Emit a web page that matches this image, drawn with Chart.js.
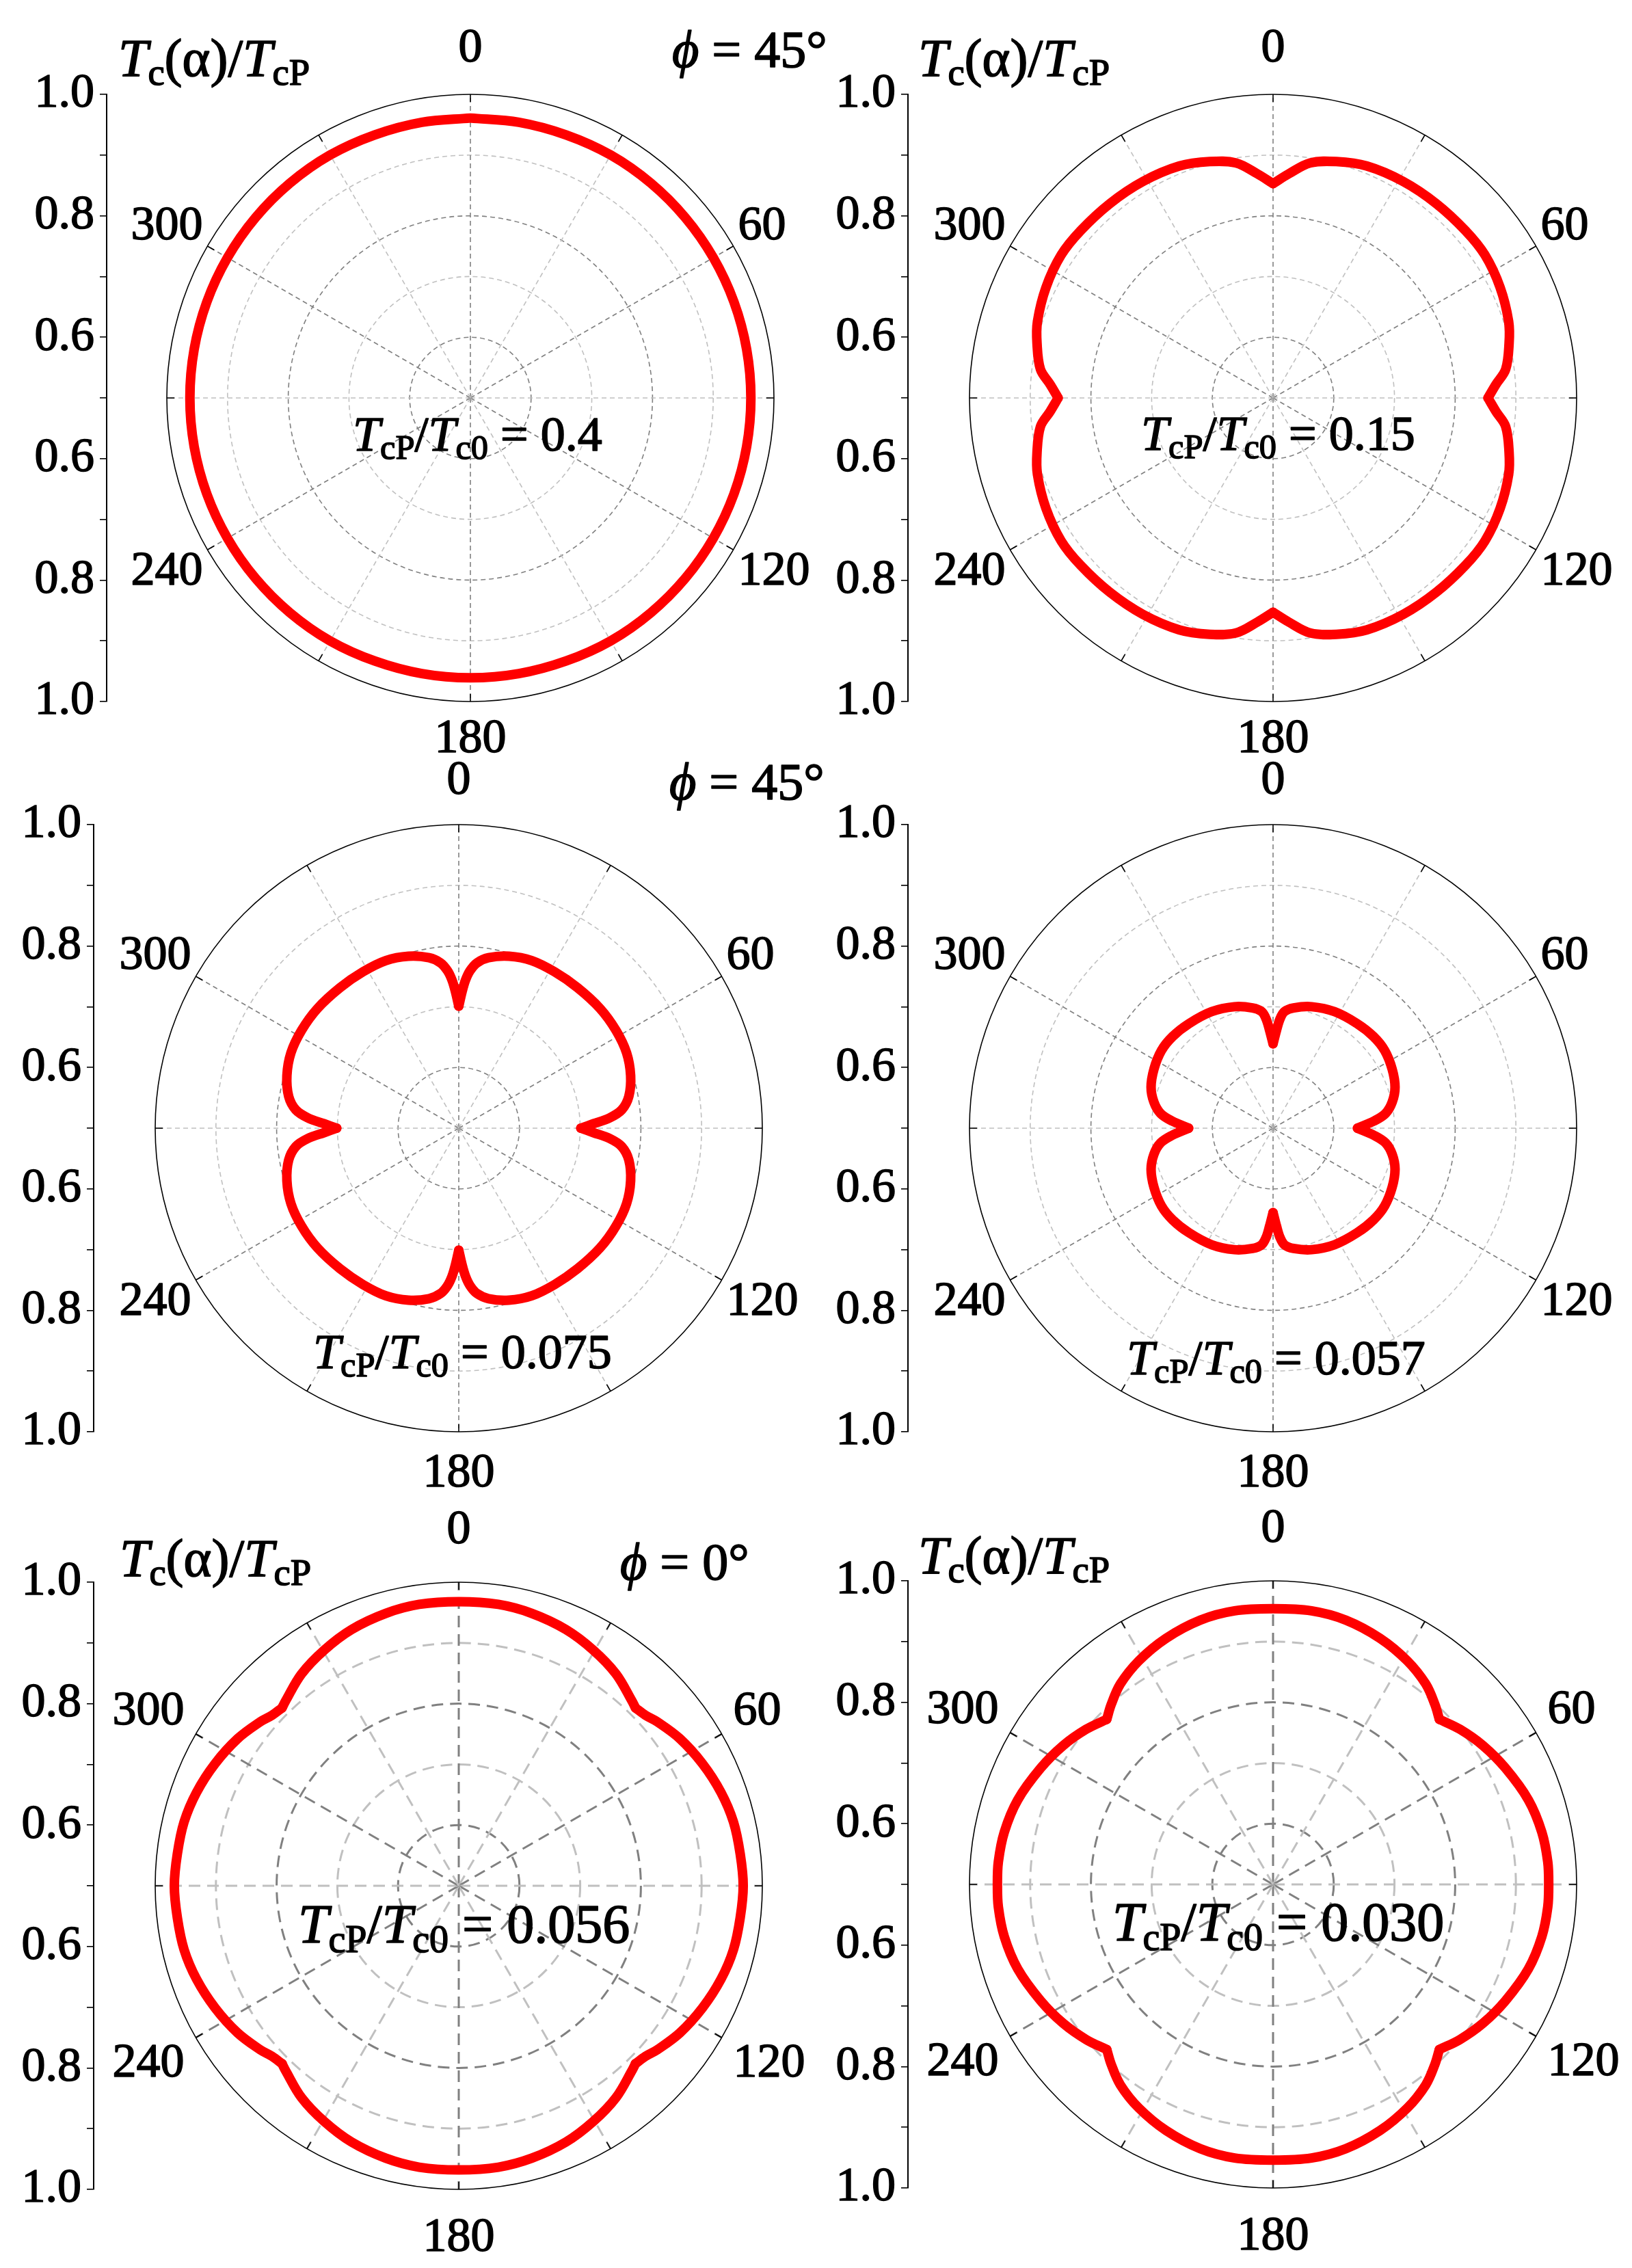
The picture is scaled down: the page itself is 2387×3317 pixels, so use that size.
<!DOCTYPE html>
<html lang="en">
<head>
  <meta charset="UTF-8">
  <title>Tc(α)/TcP polar plots</title>
  <script src="https://cdn.jsdelivr.net/npm/chart.js"></script>
  <style>
    html, body { margin: 0; padding: 0; background: #fff; }
    body { width: 2387px; height: 3317px; position: relative; overflow: hidden; }
    canvas { position: absolute; }
  </style>
</head>
<body>
<script>
  // radial axis: centre of each disc is Tc/TcP = 0.5, rim is 1.0
  const R_MIN = 0.5, R_MAX = 1.0;

  // first-quadrant angles (deg, clockwise from top) and Tc(α)/TcP
  const ang1 = [0, 10, 20, 30, 40, 50, 60, 70, 80, 90];
  const val1 = [0.961, 0.961, 0.961, 0.962, 0.962, 0.962, 0.962, 0.962, 0.962, 0.962];

  const ang2 = [0, 4, 9, 15, 22, 31, 40, 49, 56, 64, 72, 77, 83, 86.5, 90];
  const val2 = [0.853, 0.870, 0.892, 0.903, 0.912, 0.916, 0.918, 0.920, 0.921, 0.916, 0.908, 0.899, 0.886, 0.868, 0.854];

  const ang3 = [0, 1.4, 2.6, 4.1, 6.3, 9.9, 16.3, 23.5, 31.5, 40.2, 49.7, 58.1, 65.8, 73, 79.4, 83.6, 86.1, 88.1, 90];
  const val3 = [0.701, 0.725, 0.744, 0.760, 0.774, 0.785, 0.795, 0.801, 0.802, 0.803, 0.805, 0.805, 0.803, 0.796, 0.785, 0.770, 0.749, 0.722, 0.701];

  const ang4 = [0, 2, 3.6, 5.6, 9.7, 17.7, 27.8, 38.8, 47.6, 55.2, 63.6, 71.4, 77.6, 82.5, 85.9, 90];
  const val4 = [0.639, 0.661, 0.680, 0.693, 0.701, 0.710, 0.717, 0.721, 0.724, 0.724, 0.719, 0.712, 0.701, 0.687, 0.667, 0.639];

  const ang5 = [0, 8, 15, 22.7, 29.7, 36.6, 43.2, 44.8, 47.6, 50.4, 56.4, 63.4, 70.4, 76.9, 83.5, 90];
  const val5 = [0.968, 0.968, 0.9645, 0.9575, 0.947, 0.9345, 0.917, 0.913, 0.9165, 0.924, 0.9375, 0.949, 0.9585, 0.9645, 0.9665, 0.9685];

  const ang6 = [0, 8, 15.4, 23.5, 31, 37.3, 42, 45.2, 50.3, 56.5, 63.4, 71.7, 79, 85.3, 90];
  const val6 = [0.954, 0.955, 0.9515, 0.942, 0.9295, 0.915, 0.8985, 0.886, 0.900, 0.9145, 0.928, 0.943, 0.951, 0.954, 0.954];

  // angles where the curve has a cusp or a kink (first quadrant)
  const brk1 = [];
  const brk2 = [0, 90];
  const brk3 = [0, 90];
  const brk4 = [0, 90];
  const brk5 = [44.8];
  const brk6 = [45.2];

  // left axis ticks, bottom to top (the axis reads 1.0 ... 0.5 ... 1.0)
  const yTickR = [1.0, 0.9, 0.8, 0.7, 0.6, 0.5, 0.6, 0.7, 0.8, 0.9, 1.0];
  const yTickText = ['1.0', '', '0.8', '', '0.6', '', '0.6', '', '0.8', '', '1.0'];

  const ringR = [0.6, 0.7, 0.8, 0.9];
  const spokeAngles = [0, 30, 60, 90, 120, 150, 180, 210, 240, 270, 300, 330];
  const angleLabels = [0, 60, 120, 180, 240, 300];

  const FAM = '"Liberation Serif", "DejaVu Serif", serif';
  const TEXT_STROKE = 1.6;
  const RADIUS = 444;
  const AXIS_W = 170, PAD_T = 140, PAD_B = 120, PAD_R = 150;

  const rowStyle = [
    { dash: [7, 5], gw: 1.6, g0: 48, g180: 26, dx: 7, dyU: 10, dyD: 3, note: 72 },
    { dash: [7, 5], gw: 1.6, g0: 45, g180: 32, dx: 7, dyU: 11, dyD: 3, note: 72 },
    { dash: [17, 10], gw: 3, g0: 57, g180: 42, dx: 17, dyU: 14, dyD: 9, note: 80 }
  ];

  const panels = [
    { a: ang1, v: val1, b: brk1, cx: 688, cy: 582, axis: 156, row: 0, note: '0.4', noteAt: [516, 659], tc: [173, 111], phi: ['45°', 983, 98] },
    { a: ang2, v: val2, b: brk2, cx: 1862, cy: 582, axis: 1328, row: 0, note: '0.15', noteAt: [1669, 658], tc: [1343, 111] },
    { a: ang3, v: val3, b: brk3, cx: 671, cy: 1650, axis: 137, row: 1, note: '0.075', noteAt: [458, 2001], phi: ['45°', 979, 1169] },
    { a: ang4, v: val4, b: brk4, cx: 1862, cy: 1650, axis: 1328, row: 1, note: '0.057', noteAt: [1648, 2010] },
    { a: ang5, v: val5, b: brk5, cx: 671, cy: 2758, axis: 137, row: 2, note: '0.056', noteAt: [436, 2841], tc: [175, 2305], phi: ['0°', 907, 2310] },
    { a: ang6, v: val6, b: brk6, cx: 1862, cy: 2756, axis: 1328, row: 2, note: '0.030', noteAt: [1627, 2838], tc: [1343, 2301] }
  ];

  const wrap = d => ((d % 360) + 360) % 360;

  // each panel is mirror symmetric about both axes: unfold the quadrant into a full loop
  function loop(angles, vals) {
    const pts = [];
    const add = (d, r) => {
      d = wrap(d);
      if (pts.some(p => Math.abs(p.d - d) < 1e-6)) return;
      pts.push({ d, r });
    };
    angles.forEach((a, i) => add(a, vals[i]));
    angles.forEach((a, i) => add(180 - a, vals[i]));
    angles.forEach((a, i) => add(180 + a, vals[i]));
    angles.forEach((a, i) => add(360 - a, vals[i]));
    return pts.sort((p, q) => p.d - q.d);
  }

  // split the loop at the cusps so the smoothing keeps them sharp
  function arcs(pts, breaks) {
    const bs = [...new Set(breaks.flatMap(b => [b, 180 - b, 180 + b, 360 - b].map(wrap)))].sort((a, b) => a - b);
    if (!bs.length) return [[...pts, pts[0]]];
    const n = pts.length;
    const starts = bs.map(b => pts.findIndex(p => Math.abs(p.d - b) < 1e-6));
    return starts.map((s, k) => {
      const e = starts[(k + 1) % starts.length];
      const seg = [pts[s]];
      let i = s;
      do { i = (i + 1) % n; seg.push(pts[i]); } while (i !== e);
      return seg;
    });
  }

  const toXY = p => {
    const f = (p.r - R_MIN) / (R_MAX - R_MIN);
    const t = p.d * Math.PI / 180;
    return { x: f * Math.sin(t), y: f * Math.cos(t) };
  };

  function text(ctx, s, x, y) {
    ctx.strokeText(s, x, y);
    ctx.fillText(s, x, y);
  }

  function rich(ctx, x, y, parts, size) {
    let cur = x;
    parts.forEach(([t, s]) => {
      const sub = s === 's';
      const sz = sub ? size * 0.7 : size;
      ctx.font = (s === 'i' ? 'italic ' : '') + sz + 'px ' + FAM;
      text(ctx, t, cur, y + (sub ? size * 0.17 : 0));
      cur += ctx.measureText(t).width;
    });
  }

  const polarGrid = {
    id: 'polarGrid',
    beforeDatasetsDraw(chart, args, o) {
      const { ctx, scales: { x, y } } = chart;
      const st = rowStyle[o.row];
      const cx = x.getPixelForValue(0), cy = y.getPixelForValue(0);
      const rad = r => cy - y.getPixelForValue((r - R_MIN) / (R_MAX - R_MIN));
      ctx.save();
      ctx.lineWidth = st.gw;
      ctx.setLineDash(st.dash);
      ringR.forEach(r => {
        ctx.strokeStyle = Math.round(r * 10) % 2 === 0 ? '#808080' : '#c0c0c0';
        ctx.beginPath();
        ctx.arc(cx, cy, rad(r), 0, Math.PI * 2);
        ctx.stroke();
      });
      spokeAngles.forEach(d => {
        const t = d * Math.PI / 180;
        ctx.strokeStyle = d % 60 === 0 ? '#808080' : '#c0c0c0';
        ctx.beginPath();
        ctx.moveTo(cx, cy);
        ctx.lineTo(x.getPixelForValue(Math.sin(t)), y.getPixelForValue(Math.cos(t)));
        ctx.stroke();
      });
      ctx.setLineDash([]);
      ctx.strokeStyle = '#000';
      ctx.lineWidth = 1.6;
      ctx.beginPath();
      ctx.arc(cx, cy, rad(R_MAX), 0, Math.PI * 2);
      ctx.stroke();
      spokeAngles.forEach(d => {
        const t = d * Math.PI / 180;
        ctx.beginPath();
        ctx.moveTo(x.getPixelForValue(Math.sin(t)), y.getPixelForValue(Math.cos(t)));
        ctx.lineTo(x.getPixelForValue(0.975 * Math.sin(t)), y.getPixelForValue(0.975 * Math.cos(t)));
        ctx.stroke();
      });
      ctx.restore();
    },
    afterDraw(chart, args, o) {
      const { ctx, scales: { x, y } } = chart;
      const st = rowStyle[o.row];
      const p = o.panel;
      const cap = 70 * 0.68;
      ctx.save();
      ctx.fillStyle = '#000';
      ctx.strokeStyle = '#000';
      ctx.lineWidth = TEXT_STROKE;
      ctx.lineJoin = 'round';
      ctx.textBaseline = 'alphabetic';
      ctx.font = '70px ' + FAM;
      angleLabels.forEach(d => {
        const t = d * Math.PI / 180;
        const px = x.getPixelForValue(Math.sin(t)), py = y.getPixelForValue(Math.cos(t));
        const s = String(d);
        if (d === 0) {
          ctx.textAlign = 'center';
          text(ctx, s, px, py - st.g0);
        } else if (d === 180) {
          ctx.textAlign = 'center';
          text(ctx, s, px, py + st.g180 + cap);
        } else {
          ctx.textAlign = d < 180 ? 'left' : 'right';
          const tx = d < 180 ? px + st.dx : px - st.dx;
          const ty = (d < 90 || d > 270) ? py - st.dyU : py + st.dyD + cap;
          text(ctx, s, tx, ty);
        }
      });
      ctx.textAlign = 'left';
      const ox = o.left, oy = o.top;
      rich(ctx, p.noteAt[0] - ox, p.noteAt[1] - oy,
        [['T', 'i'], ['cP', 's'], ['/', 'r'], ['T', 'i'], ['c0', 's'], [' = ' + p.note, 'r']], st.note);
      if (p.tc) {
        rich(ctx, p.tc[0] - ox, p.tc[1] - oy,
          [['T', 'i'], ['c', 's'], ['(α)/', 'r'], ['T', 'i'], ['cP', 's']], 78);
      }
      if (p.phi) {
        rich(ctx, p.phi[1] - ox, p.phi[2] - oy, [['\u03D5', 'i'], [' = ' + p.phi[0], 'r']], 76);
      }
      ctx.restore();
    }
  };

  const yTickValues = yTickR.map((r, i) => (i < 5 ? -1 : 1) * (r - R_MIN) / (R_MAX - R_MIN));

  panels.forEach(p => {
    const left = p.axis - AXIS_W;
    const top = p.cy - RADIUS - PAD_T;
    const areaW = (p.cx - p.axis) + RADIUS;
    const cv = document.createElement('canvas');
    cv.width = AXIS_W + areaW + PAD_R;
    cv.height = PAD_T + 2 * RADIUS + PAD_B;
    cv.style.left = left + 'px';
    cv.style.top = top + 'px';
    document.body.appendChild(cv);

    const datasets = arcs(loop(p.a, p.v), p.b).map(seg => ({
      data: seg.map(toXY),
      showLine: true,
      borderColor: '#ff0000',
      borderWidth: 14,
      borderJoinStyle: 'round',
      borderCapStyle: 'round',
      pointRadius: 0,
      tension: 0.35
    }));

    new Chart(cv, {
      type: 'scatter',
      data: { datasets },
      options: {
        responsive: false,
        animation: false,
        events: [],
        layout: { padding: { left: 0, top: PAD_T, right: PAD_R, bottom: PAD_B } },
        plugins: {
          legend: { display: false },
          tooltip: { enabled: false },
          polarGrid: { row: p.row, panel: p, left: left, top: top }
        },
        scales: {
          x: { type: 'linear', display: false, min: -(p.cx - p.axis) / RADIUS, max: 1 },
          y: {
            type: 'linear',
            min: -1,
            max: 1,
            afterFit: s => { s.width = AXIS_W; },
            afterBuildTicks: s => { s.ticks = yTickValues.map(v => ({ value: v })); },
            ticks: {
              autoSkip: false,
              padding: 8,
              color: '#000',
              textStrokeColor: '#000',
              textStrokeWidth: TEXT_STROKE,
              font: { family: FAM, size: 70 },
              callback: (v, i) => yTickText[i]
            },
            grid: { drawOnChartArea: false, drawTicks: true, tickLength: 10, color: '#000', lineWidth: 1.6 },
            border: { display: true, color: '#000', width: 2 }
          }
        }
      },
      plugins: [polarGrid]
    });
  });
</script>
</body>
</html>
